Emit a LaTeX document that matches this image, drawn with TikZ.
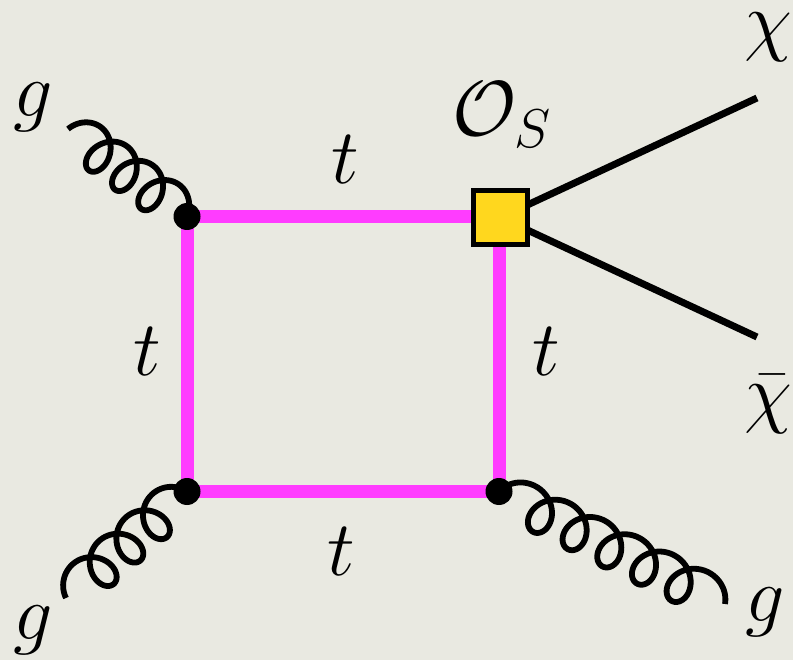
\documentclass[tikz,border=0pt]{standalone}
\usepackage{fix-cm}
\usetikzlibrary{calc}
\definecolor{paper}{HTML}{E9E9E1}
\definecolor{topline}{HTML}{FF3CFF}
\definecolor{opfill}{HTML}{FFD71E}
% gluon: start node, end node, loops, side (+1 left/-1 right), coil radius, backswing
\newcommand{\gluon}[6]{%
  \path let \p1=($(#2)-(#1)$), \n1={atan2(\y1,\x1)}, \n2={veclen(\x1,\y1)} in
    \pgfextra{\pgfmathsetmacro\tmpang{\n1}\pgfmathsetmacro\tmplen{\n2}\global\let\gang\tmpang\global\let\glen\tmplen};
  \begin{scope}[shift={(#1)},rotate=\gang,x=1pt,y=1pt]
  \draw[gluonline] plot[variable=\th,domain=-90:{360*#3+90},samples={60*#3+40}]
    ({\glen*((\th+90)/(360*#3+180)+#6*(sin(\th)+1-2*(\th+90)/(360*#3+180)))},{#4*#5*cos(\th)});
  \end{scope}%
}
\tikzset{
  x=1pt,y=-1pt,
  gluonline/.style={line width=5.8pt,black,line join=round},
  topquark/.style={line width=13pt,topline},
  dmline/.style={line width=7pt,black},
  vertexdot/.style={circle,fill=black,inner sep=0pt,minimum size=27pt},
  opbox/.style={rectangle,draw=black,line width=4.7pt,fill=opfill,inner sep=0pt,minimum size=54.3pt},
  lab/.style={inner sep=0pt,font=\fontsize{78}{84}\selectfont},
}
\begin{document}
\begin{tikzpicture}
\useasboundingbox (0,0) rectangle (793,660);
\fill[paper] (0,0) rectangle (793,660);
\coordinate (v1) at (187,216.5);
\coordinate (v2) at (187,491.5);
\coordinate (v3) at (499,491.5);
\coordinate (v4) at (500.5,217.5);
\coordinate (e1) at (68,129);
\coordinate (e2) at (66,598);
\coordinate (e3) at (725,604);
\coordinate (e4) at (757,98);
\coordinate (e5) at (757,337);
\draw[dmline] (v4) -- (e4);
\draw[dmline] (v4) -- (e5);
\draw[topquark,line cap=rect] (v1) -- (v4 |- v1) (v1) -- (v2) -- (v3) -- (v3 |- v4);
\gluon{v1}{e1}{3}{-1}{21}{0.115}
\gluon{v2}{e2}{3}{-1}{21}{0.115}
\gluon{v3}{e3}{5}{1}{21}{0.078}
\node[vertexdot] (n1) at (v1) {};
\node[vertexdot] (n2) at (v2) {};
\node[vertexdot] (n3) at (v3) {};
\node[opbox] (op) at (v4) {};
\node[lab] (g1) at (33,107) {$g$};
\node[lab] (g2) at (33,630) {$g$};
\node[lab] (g3) at (765,612) {$g$};
\node[lab] (t1) at (345,160) {$t$};
\node[lab] (t2) at (147,352) {$t$};
\node[lab] (t3) at (546,352) {$t$};
\node[lab] (t4) at (341,552) {$t$};
\node[lab] (os) at (502,115) {$\mathcal{O}_S$};
\node[lab] (chi) at (768,37) {$\chi$};
\node[lab] (chib) at (768,404) {$\bar\chi$};
\end{tikzpicture}
\end{document}
